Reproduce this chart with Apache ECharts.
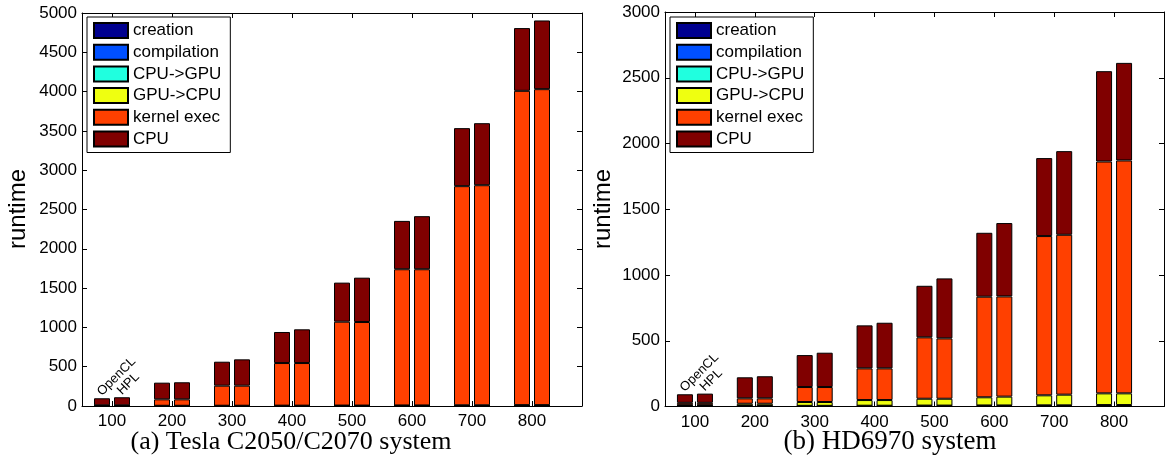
<!DOCTYPE html>
<html>
<head>
<meta charset="utf-8">
<script src="https://cdn.jsdelivr.net/npm/echarts@6/dist/echarts.min.js"></script>
<style>
  html, body { margin: 0; padding: 0; background: #fff; }
  #chart { width: 1165px; height: 464px; }
</style>
</head>
<body>
<div id="chart"></div>
<script>
// Problem sizes on the x axis
const sizes = ['100', '200', '300', '400', '500', '600', '700', '800'];
const sizeValues = [100, 200, 300, 400, 500, 600, 700, 800];
const yTicksTesla = [0, 500, 1000, 1500, 2000, 2500, 3000, 3500, 4000, 4500, 5000];
const yTicksHD = [0, 500, 1000, 1500, 2000, 2500, 3000];

// Stacked components (bottom to top) and their colours
const components = ['creation', 'compilation', 'CPU->GPU', 'GPU->CPU', 'kernel exec', 'CPU'];
const componentColors = ['#00008F', '#0050FF', '#20FFDF', '#EFFF10', '#FF4000', '#800000'];

// (a) Tesla C2050/C2070 system — OpenCL
const teslaOclCreation    = [1, 1, 1, 1, 1, 1, 1, 1];
const teslaOclCompilation = [1, 1, 1, 1, 1, 1, 1, 1];
const teslaOclH2D         = [0.2, 0.5, 1, 1.5, 2, 3, 4, 5];
const teslaOclD2H         = [0.1, 0.3, 0.5, 1, 1.5, 2, 3, 4];
const teslaOclKernel      = [6, 82, 255, 542, 1067, 1733, 2788, 3999];
const teslaOclCPU         = [90, 212, 305, 395, 497, 615, 738, 798];
// (a) Tesla C2050/C2070 system — HPL
const teslaHplCreation    = [1, 1, 1, 1, 1, 1, 1, 1];
const teslaHplCompilation = [1, 1, 1, 1, 1, 1, 1, 1];
const teslaHplH2D         = [0.2, 0.5, 1, 1.5, 2, 3, 4, 5];
const teslaHplD2H         = [0.1, 0.3, 0.5, 1, 1.5, 2, 3, 4];
const teslaHplKernel      = [6, 82, 255, 542, 1063, 1733, 2800, 4020];
const teslaHplCPU         = [103, 217, 335, 429, 564, 675, 789, 874];

// (b) HD6970 system — OpenCL
const hdOclCreation    = [1, 1, 1, 1, 1, 1, 1, 1];
const hdOclCompilation = [2, 2, 2, 2, 2, 2, 2, 2];
const hdOclH2D         = [0.5, 1, 2, 3, 4, 5, 6, 8];
const hdOclD2H         = [6.5, 17, 29, 43, 52, 62, 76, 89];
const hdOclKernel      = [18, 41, 114, 241, 467, 765, 1211, 1763];
const hdOclCPU         = [65, 160, 243, 327, 392, 486, 593, 687];
// (b) HD6970 system — HPL
const hdHplCreation    = [1, 1, 1, 1, 1, 1, 1, 1];
const hdHplCompilation = [2, 2, 2, 2, 2, 2, 2, 2];
const hdHplH2D         = [0.5, 1, 2, 3, 4, 5, 6, 8];
const hdHplD2H         = [6.5, 17, 29, 43, 52, 67, 81, 89];
const hdHplKernel      = [18, 41, 114, 241, 459, 762, 1216, 1771];
const hdHplCPU         = [70, 168, 261, 347, 456, 558, 636, 742];

const systems = [
  {
    caption: '(a) Tesla C2050/C2070 system',
    yMax: 5000,
    yTicks: yTicksTesla,
    impls: [
      { label: 'OpenCL', values: [teslaOclCreation, teslaOclCompilation, teslaOclH2D, teslaOclD2H, teslaOclKernel, teslaOclCPU] },
      { label: 'HPL',    values: [teslaHplCreation, teslaHplCompilation, teslaHplH2D, teslaHplD2H, teslaHplKernel, teslaHplCPU] }
    ]
  },
  {
    caption: '(b) HD6970 system',
    yMax: 3000,
    yTicks: yTicksHD,
    impls: [
      { label: 'OpenCL', values: [hdOclCreation, hdOclCompilation, hdOclH2D, hdOclD2H, hdOclKernel, hdOclCPU] },
      { label: 'HPL',    values: [hdHplCreation, hdHplCompilation, hdHplH2D, hdHplD2H, hdHplKernel, hdHplCPU] }
    ]
  }
];

const SANS = '"Liberation Sans", Arial, Helvetica, sans-serif';
const SERIF = '"Liberation Serif", "Times New Roman", serif';

// Each panel: a plotting grid whose category bands are 60px wide, and a
// slightly wider frame grid carrying the box outline (MATLAB style axes).
const panels = [
  { left: 82, top: 13, plotWidth: 480, frameWidth: 500, height: 393 },
  { left: 665, top: 12, plotWidth: 479, frameWidth: 499, height: 394.5 }
];
// the frame's value range so that band centres fall on 100..800
const frameMin = 50, frameMax = 883.33;

const grids = [];
const xAxes = [];
const yAxes = [];
const series = [];
const legends = [];
const lineStyle = { color: '#000', width: 1 };
const hidden = { show: false };

systems.forEach((sys, g) => {
  const p = panels[g];
  const plotGrid = grids.length;
  grids.push({ left: p.left, top: p.top, width: p.plotWidth, height: p.height });
  const frameGrid = grids.length;
  grids.push({ left: p.left, top: p.top, width: p.frameWidth, height: p.height });

  // plotting axes
  const xPlot = xAxes.length;
  xAxes.push({
    type: 'category', gridIndex: plotGrid, position: 'bottom', data: sizes,
    axisLine: hidden,
    axisTick: { show: true, inside: true, length: 5, alignWithLabel: true, lineStyle: lineStyle },
    axisLabel: { show: true, color: '#000', fontSize: 17, fontFamily: SANS, margin: 7 },
    splitLine: hidden
  });
  const yPlot = yAxes.length;
  yAxes.push({
    type: 'value', gridIndex: plotGrid, position: 'left', min: 0, max: sys.yMax, interval: 500,
    axisLine: { show: true, lineStyle: lineStyle },
    axisTick: { show: true, inside: true, length: 5, lineStyle: lineStyle },
    axisLabel: { show: true, color: '#000', fontSize: 17, fontFamily: SANS, margin: 5, formatter: (v) => String(v) },
    splitLine: hidden
  });

  // frame axes: bottom line, top line with ticks, right line with ticks
  xAxes.push({
    type: 'value', gridIndex: frameGrid, position: 'bottom', min: frameMin, max: frameMax,
    axisLine: { show: true, lineStyle: lineStyle }, axisTick: hidden, axisLabel: hidden, splitLine: hidden
  });
  xAxes.push({
    type: 'value', gridIndex: frameGrid, position: 'top', min: frameMin, max: frameMax,
    axisLine: { show: true, lineStyle: lineStyle },
    axisTick: { show: true, inside: true, length: 5, customValues: sizeValues, lineStyle: lineStyle },
    axisLabel: hidden, splitLine: hidden
  });
  yAxes.push({
    type: 'value', gridIndex: frameGrid, position: 'right', min: 0, max: sys.yMax, interval: 500,
    axisLine: { show: true, lineStyle: lineStyle },
    axisTick: { show: true, inside: true, length: 5, lineStyle: lineStyle },
    axisLabel: hidden, splitLine: hidden
  });

  sys.impls.forEach((impl) => {
    components.forEach((comp, c) => {
      const vals = impl.values[c];
      const data = vals.map((v, i) => {
        // name each implementation above the first group
        if (comp === 'CPU' && i === 0) {
          return {
            value: v,
            label: {
              show: true, formatter: impl.label, position: [10, 0], rotate: 45,
              align: 'left', verticalAlign: 'bottom',
              fontSize: 13, fontFamily: SANS, color: '#000'
            }
          };
        }
        return v;
      });
      series.push({
        type: 'bar',
        name: comp,
        xAxisIndex: xPlot,
        yAxisIndex: yPlot,
        stack: 'sys' + g + impl.label,
        barWidth: 16,
        barGap: '25%',
        data: data,
        itemStyle: { color: componentColors[c], borderColor: '#000', borderWidth: 1 },
        emphasis: { disabled: true },
        animation: false
      });
    });
  });

  legends.push({
    data: components,
    orient: 'vertical',
    left: p.left + 5,
    top: 17,
    itemWidth: 34,
    itemHeight: 15,
    itemGap: 4.7,
    icon: 'rect',
    padding: [5, 9, 5, 6],
    backgroundColor: '#fff',
    borderColor: '#000',
    borderWidth: 1,
    borderRadius: 0,
    selectedMode: false,
    textStyle: { color: '#000', fontSize: 17, fontFamily: SANS }
  });
});

const chart = echarts.init(document.getElementById('chart'), null, { renderer: 'canvas' });
chart.setOption({
  animation: false,
  backgroundColor: '#fff',
  grid: grids,
  xAxis: xAxes,
  yAxis: yAxes,
  legend: legends,
  series: series,
  graphic: [
    { type: 'text', x: 18, y: 209, rotation: Math.PI / 2,
      style: { text: 'runtime', font: '24px ' + SANS, fill: '#000', textAlign: 'center', textVerticalAlign: 'middle' } },
    { type: 'text', x: 603, y: 209, rotation: Math.PI / 2,
      style: { text: 'runtime', font: '24px ' + SANS, fill: '#000', textAlign: 'center', textVerticalAlign: 'middle' } },
    { type: 'text', x: 291, y: 442,
      style: { text: systems[0].caption, font: '26px ' + SERIF, fill: '#000', textAlign: 'center', textVerticalAlign: 'middle' } },
    { type: 'text', x: 890, y: 442,
      style: { text: systems[1].caption, font: '27px ' + SERIF, fill: '#000', textAlign: 'center', textVerticalAlign: 'middle' } }
  ]
});
</script>
</body>
</html>
